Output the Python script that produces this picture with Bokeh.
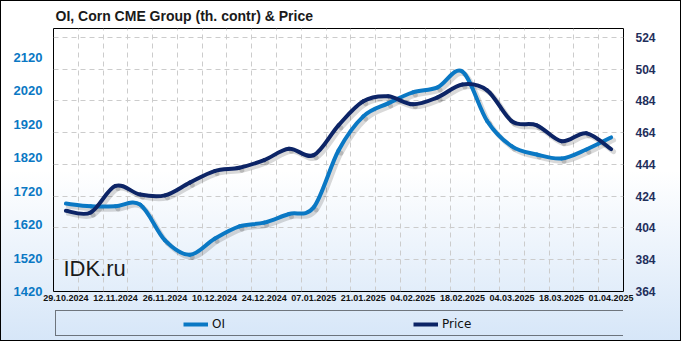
from bokeh.plotting import figure
from bokeh.layouts import column
from bokeh.models import (Range1d, LinearAxis, FixedTicker, Legend, LegendItem,
                          ColumnDataSource, Label, Grid)
from bokeh.embed import file_html
from bokeh.resources import INLINE

dates = ["29.10.2024", "05.11.2024", "12.11.2024", "19.11.2024", "26.11.2024",
         "03.12.2024", "10.12.2024", "17.12.2024", "24.12.2024", "31.12.2024",
         "07.01.2025", "14.01.2025", "21.01.2025", "28.01.2025", "04.02.2025",
         "11.02.2025", "18.02.2025", "25.02.2025", "04.03.2025", "11.03.2025",
         "18.03.2025", "25.03.2025", "01.04.2025"]
oi = [1683, 1675, 1675, 1680, 1573, 1530, 1578, 1615, 1626, 1652, 1672, 1842,
      1944, 1983, 2016, 2031, 2078, 1930, 1854, 1830, 1818, 1845, 1881]
price = [414.8, 413.7, 430.4, 425.0, 424.5, 432.5, 439.8, 441.9, 446.7, 453.8,
         449.8, 468.6, 483.7, 486.8, 481.8, 486.2, 494.3, 490.6, 471.1, 468.6,
         458.6, 463.6, 453.6]
oi_ticks = [1420, 1520, 1620, 1720, 1820, 1920, 2020, 2120]
price_ticks = [364, 384, 404, 424, 444, 464, 484, 504, 524]

OI_COLOR = "#0a78c4"
PRICE_COLOR = "#0c2466"

xs = list(range(len(dates)))


def bezier_source(x, y, dx=0.0, dy=0.0):
    n = len(x)
    d = dict(x0=[], y0=[], x1=[], y1=[], cx0=[], cy0=[], cx1=[], cy1=[])
    for i in range(n - 1):
        xp, yp = (x[i - 1], y[i - 1]) if i > 0 else (x[i], y[i])
        xn, yn = (x[i + 2], y[i + 2]) if i + 2 < n else (x[i + 1], y[i + 1])
        d["x0"].append(x[i] + dx)
        d["y0"].append(y[i] + dy)
        d["x1"].append(x[i + 1] + dx)
        d["y1"].append(y[i + 1] + dy)
        d["cx0"].append(x[i] + (x[i + 1] - xp) / 6 + dx)
        d["cy0"].append(y[i] + (y[i + 1] - yp) / 6 + dy)
        d["cx1"].append(x[i + 1] - (xn - x[i]) / 6 + dx)
        d["cy1"].append(y[i + 1] - (yn - y[i]) / 6 + dy)
    return ColumnDataSource(d)


p = figure(width=681, height=305, x_range=Range1d(-0.5, 22.5),
           y_range=Range1d(1420, 2207), output_backend="svg",
           toolbar_location=None, min_border_left=53, min_border_right=58,
           min_border_top=27, min_border_bottom=14)
p.extra_y_ranges = {"price": Range1d(364, 529.5)}
p.background_fill_color = None
p.border_fill_color = None
p.outline_line_color = "black"
p.outline_line_width = 1

# title
p.title.text = "OI, Corn CME Group (th. contr) & Price"
p.title.text_font = "Liberation Sans"
p.title.text_font_size = "14px"
p.title.text_font_style = "bold"
p.title.text_color = "#1a1a1a"
p.title.align = "left"
p.title.offset = 2

# axes
lab_font = "Liberation Sans"
p.yaxis.ticker = FixedTicker(ticks=oi_ticks)
p.yaxis.major_label_text_color = "#0a78c4"
p.yaxis.major_label_text_font = lab_font
p.yaxis.major_label_text_font_style = "bold"
p.yaxis.major_label_text_font_size = "13px"
p.yaxis.major_label_standoff = 11

right = LinearAxis(y_range_name="price", ticker=FixedTicker(ticks=price_ticks))
right.major_label_text_color = "#1f2f5c"
right.major_label_text_font = lab_font
right.major_label_text_font_style = "bold"
right.major_label_text_font_size = "12px"
right.major_label_standoff = 12
p.add_layout(right, "right")

p.xaxis.ticker = FixedTicker(ticks=xs[::2])
p.xaxis.major_label_overrides = {i: dates[i] for i in xs[::2]}
p.xaxis.major_label_text_font = lab_font
p.xaxis.major_label_text_font_style = "bold"
p.xaxis.major_label_text_font_size = "9px"
p.xaxis.major_label_text_color = "#111111"
p.xaxis.major_label_standoff = 3

for ax in [p.xaxis[0], p.yaxis[0], right]:
    ax.axis_line_color = None
    ax.major_tick_line_color = None
    ax.minor_tick_line_color = None
    ax.major_tick_out = 0
    ax.major_tick_in = 0

# grids
p.xgrid.ticker = FixedTicker(ticks=[k + 0.5 for k in range(22)])
p.xgrid.grid_line_color = "#cccccc"
p.xgrid.grid_line_dash = "5 4"
p.ygrid.grid_line_color = None
hgrid = Grid(dimension=1, ticker=FixedTicker(ticks=price_ticks[1:]),
             y_range_name="price", grid_line_color="#cccccc", grid_line_dash="5 4")
p.add_layout(hgrid)

# shadows
p.bezier("x0", "y0", "x1", "y1", "cx0", "cy0", "cx1", "cy1",
         source=bezier_source(xs, oi, 0.1, -8), line_color="#000000",
         line_alpha=0.15, line_width=5, line_cap="round")
p.bezier("x0", "y0", "x1", "y1", "cx0", "cy0", "cx1", "cy1",
         source=bezier_source(xs, price, 0.1, -1.6), y_range_name="price",
         line_color="#000000", line_alpha=0.15, line_width=5, line_cap="round")

# series
p.bezier("x0", "y0", "x1", "y1", "cx0", "cy0", "cx1", "cy1",
         source=bezier_source(xs, oi), line_color=OI_COLOR, line_width=4,
         line_cap="round")
p.bezier("x0", "y0", "x1", "y1", "cx0", "cy0", "cx1", "cy1",
         source=bezier_source(xs, price), y_range_name="price",
         line_color=PRICE_COLOR, line_width=4, line_cap="round")

p.add_layout(Label(x=-0.1, y=1489, text="IDK.ru", text_font="Liberation Sans",
                   text_font_size="22px", text_baseline="middle",
                   text_color="#1a1a1a"))

# ---- legend strip (frame aligned with the main plot's frame) ----
q = figure(width=681, height=36, x_range=Range1d(0, 1), y_range=Range1d(0, 1),
           output_backend="svg", toolbar_location=None,
           x_axis_location=None, y_axis_location=None,
           min_border_left=53, min_border_right=58, min_border_top=0,
           min_border_bottom=0)
q.background_fill_color = None
q.border_fill_color = None
q.outline_line_color = None
q.xgrid.visible = False
q.ygrid.visible = False

r_box = q.line(x=[], y=[], line_alpha=0)
r_oi = q.line(xs, oi, line_color=OI_COLOR, line_width=4, visible=False)
r_pr = q.line(xs, price, line_color=PRICE_COLOR, line_width=4, visible=False)

box = Legend(items=[LegendItem(label=" ", renderers=[r_box])],
             location=(2, 5), padding=5, glyph_width=25, glyph_height=14,
             label_height=14, label_width=528, label_standoff=4,
             border_line_color="black", border_line_width=1,
             background_fill_alpha=0, margin=0, label_text_alpha=0,
             inactive_fill_alpha=0)
q.add_layout(box)

legend = Legend(items=[LegendItem(label="OI", renderers=[r_oi]),
                       LegendItem(label="Price", renderers=[r_pr])],
                orientation="horizontal", location=(125, 5),
                padding=5, spacing=161, label_width=40, glyph_width=25,
                glyph_height=14, label_height=14, label_standoff=4,
                border_line_alpha=0, background_fill_alpha=0, margin=0,
                label_text_font="DejaVu Sans", label_text_font_size="12px",
                label_text_color="#111111", inactive_fill_alpha=0)
q.add_layout(legend)

layout = column(p, q, spacing=0)
layout.styles = {
    "background": "linear-gradient(to bottom, #ffffff 0%, #ffffff 50%, #d6e6f8 100%)",
    "box-shadow": "inset 0 0 0 1px #000000",
}

open("out.html", "w").write(file_html(layout, INLINE))
